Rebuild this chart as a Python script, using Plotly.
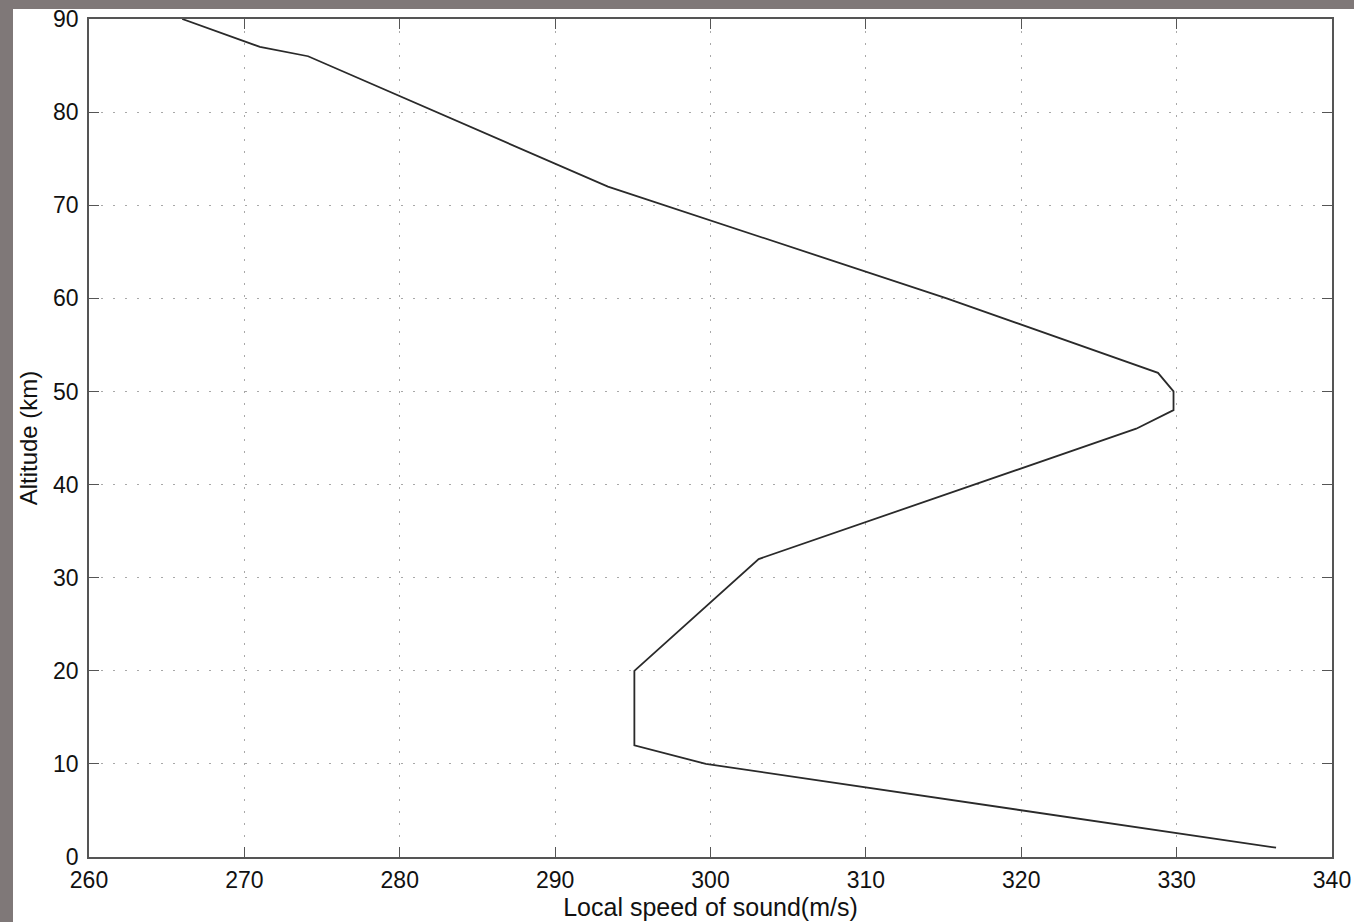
import plotly.graph_objects as go

# Data
speed_ms = [336.4, 299.7, 295.1, 295.1, 303.1, 327.4, 329.8, 329.8, 328.8, 315.2, 293.4, 274.1, 271.0, 266.0]
altitude_km = [1, 10, 12, 20, 32, 46, 48, 50, 52, 60, 72, 86, 87, 90]

x_ticks = [260, 270, 280, 290, 300, 310, 320, 330, 340]
y_ticks = [0, 10, 20, 30, 40, 50, 60, 70, 80, 90]

W, H = 1354, 922
L, R, T, B = 89, 22, 19, 65
pw, ph = W - L - R, H - T - B

fig = go.Figure()
fig.add_trace(go.Scatter(
    x=speed_ms, y=altitude_km, mode="lines",
    line=dict(color="#2a2a2a", width=1.8),
    showlegend=False, hoverinfo="x+y",
))

font_family = "Liberation Sans, Arial, Helvetica, sans-serif"
axis_common = dict(
    showline=True, linecolor="#555555", linewidth=1.5, mirror="ticks",
    ticks="inside", ticklen=10, tickwidth=1.3, tickcolor="#555555",
    showgrid=True, gridcolor="#a8a8a8", gridwidth=1, griddash="2px,10px",
    zeroline=False, automargin=False,
    tickfont=dict(family=font_family, size=23, color="#111111"),
)

fig.update_layout(
    width=W, height=H,
    margin=dict(l=L, r=R, t=T, b=B, pad=0, autoexpand=False),
    paper_bgcolor="#7f7878",
    plot_bgcolor="white",
    xaxis=dict(
        range=[260, 340], tickvals=x_ticks, ticktext=[str(v) for v in x_ticks],
        ticklabelstandoff=2,
        title=dict(text="Local speed of sound(m/s)", standoff=5,
                   font=dict(family=font_family, size=25, color="#111111")),
        **axis_common,
    ),
    yaxis=dict(
        range=[0, 90], tickvals=y_ticks, ticktext=[str(v) for v in y_ticks],
        ticklabelstandoff=4,
        title=dict(text="Altitude (km)", standoff=9,
                   font=dict(family=font_family, size=24, color="#111111")),
        **axis_common,
    ),
    shapes=[dict(
        type="rect", xref="paper", yref="paper", layer="below",
        x0=(13 - L) / pw, x1=(W + 20 - L) / pw,
        y0=-(H + 20 - T - ph) / ph, y1=(T + ph - 9) / ph,
        fillcolor="white", line=dict(width=0),
    )],
)

fig.write_html("out.html")
